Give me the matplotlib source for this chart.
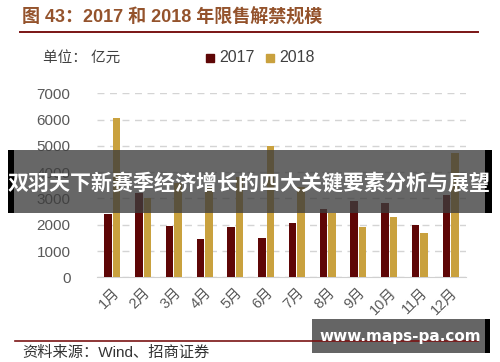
import matplotlib
matplotlib.use("Agg")
import matplotlib.pyplot as plt
from matplotlib.patches import Rectangle
import numpy as np

plt.rcParams['font.family'] = ['Liberation Sans', 'Noto Sans CJK SC', 'DejaVu Sans']

# data (亿元)
months = ['1月', '2月', '3月', '4月', '5月', '6月', '7月', '8月', '9月', '10月', '11月', '12月']
v2017 = [2400, 3200, 1960, 1450, 1920, 1500, 2070, 2580, 2900, 2830, 2000, 3130]
v2018 = [6050, 3000, 3600, 3400, 3800, 5000, 3450, 2430, 1900, 2300, 1670, 4720]

c2017 = '#5e0606'
c2018 = '#c9a13e'

W, H = 500, 362
fig = plt.figure(figsize=(5, 3.62), dpi=100)

def fx(x):
    return x / W

def fy(y):
    return 1 - y / H

ax = fig.add_axes([fx(97), fy(277.3), fx(466) - fx(97), fy(93.3) - fy(277.3)])
x = np.arange(len(months))
bw = 0.24
ax.bar(x - 0.14, v2017, bw, color=c2017, zorder=3)
ax.bar(x + 0.14, v2018, bw, color=c2018, zorder=3)

ax.set_xlim(-0.5, len(months) - 0.5)
ax.set_ylim(0, 7000)
ax.set_yticks(range(0, 7001, 1000))
ax.yaxis.grid(True, color='#d4d4d4', linestyle=(0, (5, 4)), linewidth=1, zorder=0)
ax.set_axisbelow(True)
for s in ['top', 'right', 'left']:
    ax.spines[s].set_visible(False)
ax.spines['bottom'].set_color('#d0d0d0')
ax.tick_params(axis='both', length=0, colors='#595959', labelsize=11)
ax.tick_params(axis='y', pad=19)
ax.set_xticks(x)
ax.set_xticklabels(months, rotation=45, ha='right', rotation_mode='anchor', fontsize=10.5)
for t in ax.get_xticklabels():
    t.set_color('#595959')
ax.tick_params(axis='x', pad=6)

# header
fig.text(fx(22), fy(17), '图 43：2017 和 2018 年限售解禁规模', fontsize=13,
         fontweight='bold', color='#94532c', va='center', ha='left')
fig.add_artist(plt.Line2D([fx(20), fx(478)], [fy(32), fy(32)], color='#7a1414', lw=1.4))
fig.text(fx(43), fy(58), '单位： 亿元', fontsize=10.5, color='#404040', va='center')

# legend
fig.add_artist(Rectangle((fx(206), fy(62)), fx(8), fy(54) - fy(62), color=c2017))
fig.text(fx(219), fy(58), '2017', fontsize=11.5, color='#404040', va='center')
fig.add_artist(Rectangle((fx(266), fy(62)), fx(8), fy(54) - fy(62), color=c2018))
fig.text(fx(279), fy(58), '2018', fontsize=11.5, color='#404040', va='center')

# footer
fig.add_artist(plt.Line2D([fx(15), fx(478)], [fy(341), fy(341)], color='#7a1414', lw=1.2))
fig.text(fx(22), fy(353), '资料来源：Wind、招商证券', fontsize=11, color='#333333', va='center')

# banner overlay
fig.add_artist(Rectangle((fx(8), fy(213)), fx(484), fy(150) - fy(213),
                         facecolor='#3c3c3c', alpha=0.78, edgecolor='none'))
fig.add_artist(Rectangle((fx(8), fy(213)), fx(6), fy(150) - fy(213), facecolor='black'))
fig.add_artist(Rectangle((fx(485), fy(213)), fx(7), fy(150) - fy(213), facecolor='black'))
fig.text(fx(249), fy(184), '双羽天下新赛季经济增长的四大关键要素分析与展望', fontsize=15.1,
         fontweight='bold', color='white', ha='center', va='center',
         family=['Noto Sans CJK SC', 'DejaVu Sans'])

# watermark box
fig.add_artist(Rectangle((fx(312), fy(353)), fx(173), fy(319) - fy(353),
                         facecolor='#4a4a4a', alpha=0.85, edgecolor='none'))
fig.add_artist(Rectangle((fx(485), fy(353)), fx(5), fy(319) - fy(353), facecolor='black'))
fig.text(fx(400), fy(336), 'www.maps-pa.com', fontsize=11, fontweight='bold',
         color='white', ha='center', va='center', family='DejaVu Sans')

fig.savefig('out.png', dpi=100)
